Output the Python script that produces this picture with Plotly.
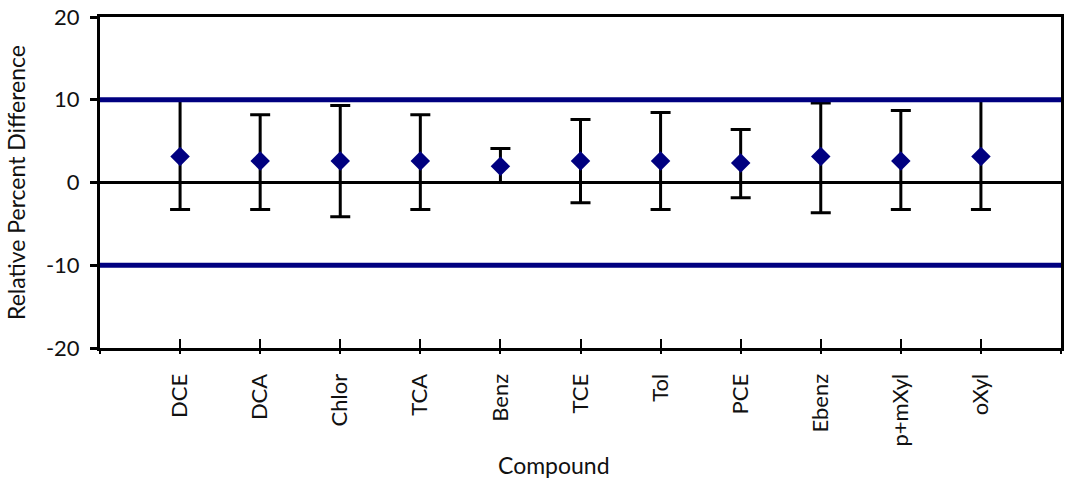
import plotly.graph_objects as go

compounds = ["DCE", "DCA", "Chlor", "TCA", "Benz", "TCE", "Tol", "PCE", "Ebenz", "p+mXyl", "oXyl"]
positions = [1, 2, 3, 4, 5, 6, 7, 8, 9, 10, 11]
rpd_mean = [3.15, 2.6, 2.6, 2.6, 1.95, 2.6, 2.6, 2.35, 3.15, 2.6, 3.15]
rpd_upper = [9.95, 8.2, 9.3, 8.2, 4.1, 7.6, 8.45, 6.4, 9.6, 8.7, 9.95]
rpd_lower = [-3.25, -3.25, -4.15, -3.25, 0.0, -2.45, -3.25, -1.85, -3.65, -3.25, -3.25]
limits = [10, -10]
x_range = [0, 12]
y_ticks = [-20, -10, 0, 10, 20]
y_ticklabels = ["-20", "-10", "0", "10", "20"]

err_plus = [u - m for u, m in zip(rpd_upper, rpd_mean)]
err_minus = [m - l for m, l in zip(rpd_mean, rpd_lower)]

FONT = "Lato"
NAVY = "#000080"

fig = go.Figure()
fig.add_trace(go.Scatter(
    x=positions, y=rpd_mean, mode="markers",
    marker=dict(symbol="diamond", size=15, color=NAVY),
    error_y=dict(type="data", symmetric=False, array=err_plus, arrayminus=err_minus,
                 color="black", thickness=3, width=10),
    showlegend=False, hoverinfo="skip",
))
for lim in limits:
    fig.add_trace(go.Scatter(
        x=x_range, y=[lim, lim], mode="lines", xaxis="x2",
        line=dict(color=NAVY, width=5), showlegend=False, hoverinfo="skip",
    ))

tickvals = list(range(x_range[0], x_range[1] + 1))
ticktext = [""] + compounds + [""]

fig.update_layout(
    width=1066, height=483,
    margin=dict(l=100, r=2, t=17, b=135),
    paper_bgcolor="white", plot_bgcolor="white",
    font=dict(family=FONT, size=22, color="#111"),
    xaxis=dict(
        range=x_range, tickvals=tickvals, ticktext=ticktext, tickangle=-90,
        ticks="inside", ticklen=9, tickwidth=1.5, tickcolor="black",
        showline=True, linewidth=3, linecolor="black", mirror=True,
        showgrid=False, zeroline=False, ticklabelstandoff=14,
        tickfont=dict(size=22),
    ),
    xaxis2=dict(
        range=x_range, overlaying="x", anchor="y", side="bottom",
        tickvals=tickvals, showticklabels=False,
        ticks="outside", ticklen=5, tickwidth=1.5, tickcolor="black",
        showline=False, showgrid=False, zeroline=False,
    ),
    yaxis=dict(
        range=[-20, 20], tickvals=y_ticks, ticktext=y_ticklabels,
        ticks="outside", ticklen=7, tickwidth=3, tickcolor="black",
        showline=True, linewidth=3, linecolor="black", mirror=True,
        showgrid=False, zeroline=True, zerolinecolor="black", zerolinewidth=3,
        ticklabelstandoff=6, tickfont=dict(size=22),
        title=dict(text="Relative Percent Difference", standoff=14, font=dict(size=23)),
    ),
    annotations=[dict(
        text="Compound", xref="paper", yref="paper", x=0.472, y=0,
        xanchor="center", yanchor="middle", yshift=-117, showarrow=False,
        font=dict(size=23, family=FONT, color="#111"),
    )],
)

fig.write_html("out.html")
